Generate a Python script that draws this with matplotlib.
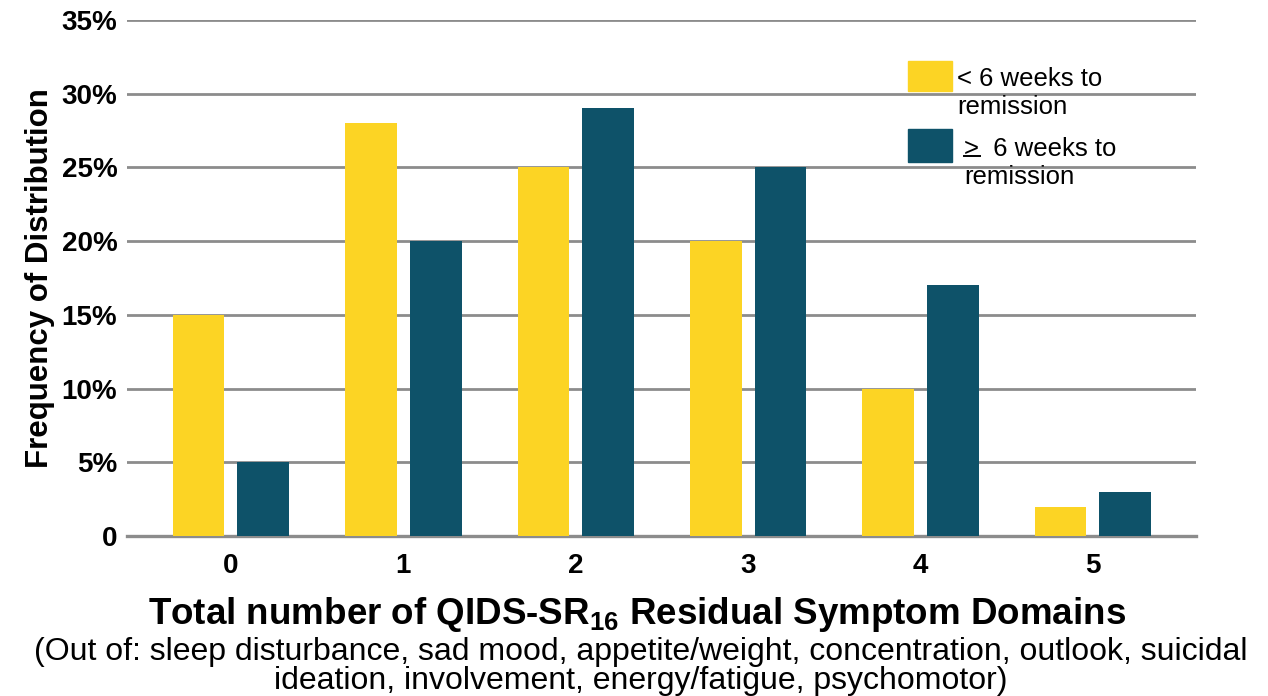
import numpy as np
import matplotlib
matplotlib.use('Agg')
import matplotlib.pyplot as plt
from matplotlib.patches import Rectangle
from matplotlib.lines import Line2D

# data
domains = ['0', '1', '2', '3', '4', '5']
under_6wk = [15, 28, 25, 20, 10, 2]
over_6wk = [5, 20, 29, 25, 17, 3]
yticks = [0, 5, 10, 15, 20, 25, 30, 35]
ytick_labels = ['0', '5%', '10%', '15%', '20%', '25%', '30%', '35%']

yellow = '#FCD424'
teal = '#0E5269'
grid_gray = '#8C8C8C'

plt.rcParams['font.family'] = ['Liberation Sans', 'DejaVu Sans']
plt.rcParams['mathtext.fontset'] = 'custom'
plt.rcParams['mathtext.rm'] = 'Liberation Sans'
plt.rcParams['mathtext.bf'] = 'Liberation Sans:bold'

fig = plt.figure(figsize=(12.68, 6.96), dpi=100)
ax = fig.add_axes([0.1002, 0.2299, 0.8430, 0.7414])

x = np.arange(len(domains))
w = 0.30
ax.bar(x - 0.185, under_6wk, w, color=yellow, zorder=3)
ax.bar(x + 0.19, over_6wk, w, color=teal, zorder=3)

ax.set_xlim(-0.6, 5.6)
ax.set_ylim(0, 35)
ax.set_yticks(yticks)
ax.set_yticklabels(ytick_labels, fontsize=20, fontweight='bold')
ax.set_xticks(x)
ax.set_xticklabels(domains, fontsize=20, fontweight='bold')
ax.tick_params(axis='x', length=0, pad=12)
ax.tick_params(axis='y', length=0, pad=7)
ax.yaxis.grid(True, color=grid_gray, linewidth=2, zorder=0)
ax.set_axisbelow(True)
for s in ['top', 'right', 'left']:
    ax.spines[s].set_visible(False)
ax.spines['bottom'].set_color(grid_gray)
ax.spines['bottom'].set_linewidth(2.4)

ax.set_ylabel('Frequency of Distribution', fontsize=22.5, fontweight='bold', labelpad=5)

# x axis titles
fig.text(0.502, 0.117, r'Total number of QIDS-SR$_{\mathbf{16}}$ Residual Symptom Domains',
         ha='center', va='center', fontsize=26.5, fontweight='bold')
fig.text(0.505, 0.042, '(Out of: sleep disturbance, sad mood, appetite/weight, concentration, outlook, suicidal\n'
         'ideation, involvement, energy/fatigue, psychomotor)',
         ha='center', va='center', fontsize=23, linespacing=0.95)

# legend
fig.add_artist(Rectangle((908 / 1268, 1 - 91 / 696), 44 / 1268, 30 / 696,
                         transform=fig.transFigure, color=yellow))
fig.add_artist(Rectangle((908 / 1268, 1 - 162 / 696), 44 / 1268, 33 / 696,
                         transform=fig.transFigure, color=teal))
fig.text(957 / 1268, 1 - 93 / 696, '< 6 weeks to\nremission', fontsize=18.5,
         ha='left', va='center', linespacing=1.25)
fig.text(964 / 1268, 1 - 163 / 696, '>  6 weeks to\nremission', fontsize=18.5,
         ha='left', va='center', linespacing=1.25)
fig.add_artist(Line2D([964 / 1268, 980 / 1268], [1 - 156 / 696, 1 - 156 / 696],
                      transform=fig.transFigure, color='black', linewidth=1.4))

fig.savefig('out.png', dpi=100)
